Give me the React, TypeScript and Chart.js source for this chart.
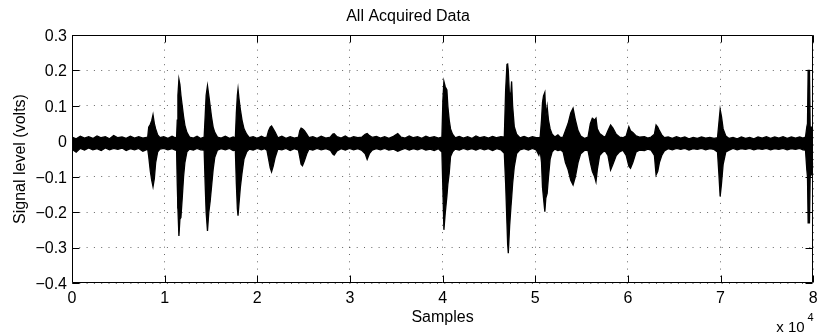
import React, { useEffect, useRef } from "react";
import { Chart, registerables } from "chart.js";

Chart.register(...registerables);

const sampleIdx = [
  0, 450, 900, 1350, 1800, 2250, 2700, 3150, 3600, 4050, 4500, 4950, 5400, 5850, 6300, 6750, 7200, 7650,
  8172, 8280, 8458, 8602, 8745, 8890, 9032, 9247, 9498,
  9900, 10350, 10800, 11150,
  11290, 11361, 11433, 11540, 11648, 11756, 11899, 12042, 12186, 12401, 12687,
  13100, 13500, 13900,
  14265, 14373, 14480, 14624, 14767, 14910, 15054, 15233, 15412, 15699,
  16100, 16550, 17000, 17400,
  17634, 17741, 17849, 17921, 18028, 18171, 18350, 18566, 18852, 19139,
  19550, 20000, 20450, 20800,
  21039, 21218, 21397, 21540, 21720, 21935, 22221,
  22650, 23100, 23550, 24000,
  24443, 24586, 24730, 24873, 25088, 25339, 25590,
  26000, 26450, 26900, 27400,
  27900, 28150, 28300, 28600,
  29050, 29500, 29950, 30400, 30850, 31300,
  31650, 31860, 32100, 32400,
  32850, 33300, 33750, 34200, 34700, 35161, 35500, 35950, 36400, 36850, 37300, 37750, 38200, 38650, 39100, 39550,
  39928, 40035, 40143, 40286, 40465, 40573, 40716, 40860, 41074, 41361,
  41800, 42250, 42700, 43150, 43600, 44050, 44500, 44950, 45400, 45850, 46300,
  46665, 46808, 46951, 47023, 47094, 47237, 47381, 47452, 47560, 47739, 47990, 48348,
  48800, 49250, 49700, 50100,
  50393, 50536, 50680, 50787, 50895, 51038, 51146, 51289, 51432, 51611, 51826, 52113, 52450, 52750,
  53011, 53261, 53548, 53835, 54086, 54337, 54623, 54910, 55340, 55699,
  55949, 56165, 56415, 56559, 56702, 56953, 57311, 57562,
  57849, 58136, 58387, 58745, 59103, 59462,
  59820, 60107, 60286, 60537, 60895, 61254, 61791, 62150, 62508,
  62867, 63046, 63225, 63404, 63655, 63942,
  64350, 64800, 65250, 65700, 66150, 66600, 67050, 67500, 67950, 68400, 68850, 69300,
  69676, 69820, 69963, 70106, 70285, 70572, 70931,
  71350, 71800, 72250, 72700, 73150, 73600, 74050, 74500, 74950, 75400, 75850, 76300, 76750, 77200, 77650, 78100, 78550, 78900,
  79174, 79317, 79389, 79460, 79604, 79676, 79890, 80000,
];

const upperEnv = [
  0.012, 0.007, 0.014, 0.009, 0.013, 0.008, 0.015, 0.01, 0.013, 0.007, 0.016, 0.01, 0.012, 0.008, 0.014, 0.009, 0.013, 0.009,
  0.012, 0.04, 0.048, 0.058, 0.075, 0.05, 0.035, 0.018, 0.01,
  0.013, 0.008, 0.014, 0.01,
  0.012, 0.06, 0.13, 0.175, 0.16, 0.13, 0.1, 0.07, 0.045, 0.025, 0.012,
  0.009, 0.014, 0.008,
  0.012, 0.07, 0.13, 0.157, 0.13, 0.1, 0.07, 0.04, 0.025, 0.012,
  0.009, 0.014, 0.008, 0.012,
  0.01, 0.08, 0.13, 0.147, 0.12, 0.09, 0.06, 0.035, 0.02, 0.01,
  0.013, 0.008, 0.014, 0.01,
  0.012, 0.03, 0.04, 0.043, 0.035, 0.025, 0.01,
  0.014, 0.008, 0.013, 0.009,
  0.012, 0.03, 0.037, 0.035, 0.03, 0.02, 0.01,
  0.013, 0.008, 0.014, 0.009,
  0.012, 0.02, 0.021, 0.013,
  0.009, 0.015, 0.008, 0.013, 0.01, 0.012,
  0.02, 0.022, 0.016, 0.011,
  0.014, 0.009, 0.013, 0.008, 0.014, 0.022, 0.012, 0.009, 0.015, 0.01, 0.013, 0.008, 0.014, 0.01, 0.013, 0.009,
  0.012, 0.117, 0.169, 0.154, 0.145, 0.098, 0.06, 0.035, 0.02, 0.01,
  0.014, 0.009, 0.013, 0.008, 0.015, 0.01, 0.013, 0.009, 0.014, 0.01, 0.013,
  0.012, 0.145, 0.217, 0.218, 0.2, 0.12, 0.14, 0.169, 0.1, 0.041, 0.02, 0.01,
  0.014, 0.009, 0.013, 0.01,
  0.01, 0.012, 0.06, 0.11, 0.128, 0.138, 0.07, 0.098, 0.06, 0.035, 0.02, 0.012, 0.018, 0.01,
  0.012, 0.03, 0.05, 0.08, 0.093, 0.06, 0.03, 0.015, 0.008, 0.012,
  0.05, 0.065, 0.06, 0.065, 0.035, 0.022, 0.015, 0.012,
  0.03, 0.046, 0.037, 0.02, 0.012, 0.01,
  0.015, 0.041, 0.03, 0.025, 0.015, 0.012, 0.013, 0.009, 0.012,
  0.02, 0.046, 0.04, 0.03, 0.018, 0.01,
  0.012, 0.008, 0.013, 0.009, 0.012, 0.007, 0.011, 0.008, 0.012, 0.009, 0.011, 0.008,
  0.01, 0.05, 0.09, 0.07, 0.035, 0.015, 0.008,
  0.011, 0.007, 0.012, 0.008, 0.011, 0.007, 0.012, 0.009, 0.013, 0.008, 0.012, 0.009, 0.013, 0.008, 0.012, 0.009, 0.012, 0.009,
  0.012, 0.041, 0.05, 0.2, 0.2, 0.04, 0.04, 0.03,
];

const lowerEnv = [
  -0.022, -0.031, -0.02, -0.025, -0.019, -0.024, -0.021, -0.026, -0.019, -0.024, -0.02, -0.023, -0.019, -0.026, -0.021, -0.024, -0.02, -0.028,
  -0.022, -0.043, -0.085, -0.11, -0.128, -0.105, -0.06, -0.03, -0.022,
  -0.02, -0.024, -0.021, -0.025,
  -0.025, -0.12, -0.19, -0.267, -0.22, -0.215, -0.16, -0.1, -0.06, -0.03, -0.022,
  -0.025, -0.02, -0.024,
  -0.025, -0.12, -0.2, -0.253, -0.2, -0.17, -0.13, -0.08, -0.045, -0.025,
  -0.021, -0.024, -0.02, -0.026,
  -0.025, -0.12, -0.19, -0.21, -0.175, -0.13, -0.09, -0.05, -0.03, -0.022,
  -0.025, -0.02, -0.024, -0.021,
  -0.025, -0.05, -0.075, -0.086, -0.07, -0.045, -0.022,
  -0.024, -0.02, -0.026, -0.021,
  -0.025, -0.045, -0.065, -0.069, -0.055, -0.035, -0.022,
  -0.025, -0.02, -0.024, -0.021,
  -0.026, -0.036, -0.039, -0.027,
  -0.021, -0.025, -0.02, -0.024, -0.021, -0.026,
  -0.035, -0.051, -0.035, -0.025,
  -0.021, -0.024, -0.02, -0.025, -0.022, -0.028, -0.024, -0.02, -0.025, -0.021, -0.024, -0.02, -0.025, -0.022, -0.026, -0.021,
  -0.03, -0.137, -0.25, -0.203, -0.156, -0.12, -0.09, -0.043, -0.03, -0.022,
  -0.025, -0.02, -0.024, -0.021, -0.025, -0.02, -0.024, -0.021, -0.026, -0.021, -0.024,
  -0.034, -0.119, -0.232, -0.29, -0.316, -0.24, -0.185, -0.16, -0.12, -0.072, -0.035, -0.024,
  -0.021, -0.025, -0.02, -0.024,
  -0.039, -0.025, -0.06, -0.13, -0.16, -0.199, -0.16, -0.147, -0.1, -0.05, -0.03, -0.022, -0.026, -0.024,
  -0.03, -0.06, -0.08, -0.11, -0.123, -0.1, -0.06, -0.035, -0.025, -0.026,
  -0.06, -0.085, -0.1, -0.114, -0.08, -0.04, -0.03, -0.028,
  -0.04, -0.081, -0.065, -0.04, -0.03, -0.025,
  -0.04, -0.07, -0.076, -0.06, -0.03, -0.025, -0.026, -0.022, -0.025,
  -0.04, -0.095, -0.085, -0.06, -0.04, -0.027,
  -0.021, -0.024, -0.02, -0.023, -0.02, -0.025, -0.021, -0.023, -0.02, -0.024, -0.021, -0.023,
  -0.03, -0.09, -0.156, -0.12, -0.065, -0.03, -0.025,
  -0.02, -0.024, -0.021, -0.023, -0.02, -0.024, -0.021, -0.023, -0.02, -0.024, -0.021, -0.023, -0.02, -0.024, -0.021, -0.023, -0.02, -0.024,
  -0.025, -0.08, -0.1, -0.23, -0.23, -0.1, -0.09, -0.06,
];

const xTickValues = [0, 10000, 20000, 30000, 40000, 50000, 60000, 70000, 80000];
const xTickLabels = ["0", "1", "2", "3", "4", "5", "6", "7", "8"];
const yTickValues = [-0.4, -0.3, -0.2, -0.1, 0, 0.1, 0.2, 0.3];
const yTickLabels = ["\u22120.4", "\u22120.3", "\u22120.2", "\u22120.1", "0", "0.1", "0.2", "0.3"];

const chartTitle = "All Acquired Data";
const xTitle = "Samples";
const yTitle = "Signal level (volts)";
const xExponentBase = "x 10";
const xExponent = "4";

const FONT = "'Liberation Sans', Arial, Helvetica, sans-serif";

const matlabAxes = {
  id: "matlabAxes",
  afterDraw(chart: any) {
    const { ctx, chartArea, scales } = chart;
    const xs = scales.x;
    const ys = scales.y;
    const L = Math.round(chartArea.left) + 0.5;
    const R = Math.round(chartArea.right) - 0.5;
    const T = Math.round(chartArea.top) + 0.5;
    const B = Math.round(chartArea.bottom) - 0.5;
    const tick = 7;
    ctx.save();
    ctx.strokeStyle = "#000";
    ctx.lineWidth = 1;
    ctx.beginPath();
    ctx.rect(L, T, R - L, B - T);
    ctx.stroke();
    ctx.beginPath();
    for (const t of xs.ticks) {
      const px = Math.round(xs.getPixelForValue(t.value)) + 0.5;
      ctx.moveTo(px, B);
      ctx.lineTo(px, B - tick);
      ctx.moveTo(px, T);
      ctx.lineTo(px, T + tick);
    }
    for (const t of ys.ticks) {
      const py = Math.round(ys.getPixelForValue(t.value)) + 0.5;
      ctx.moveTo(L, py);
      ctx.lineTo(L + tick, py);
      ctx.moveTo(R, py);
      ctx.lineTo(R - tick, py);
    }
    ctx.stroke();
    ctx.fillStyle = "#000";
    ctx.textAlign = "right";
    ctx.textBaseline = "alphabetic";
    ctx.font = `15px ${FONT}`;
    ctx.fillText(xExponentBase, chartArea.right - 8.5, 331.5);
    ctx.font = `11px ${FONT}`;
    ctx.fillText(xExponent, chartArea.right + 0.5, 320.5);
    ctx.restore();
  },
};

export default function App() {
  const canvasRef = useRef<HTMLCanvasElement | null>(null);

  useEffect(() => {
    const canvas = canvasRef.current;
    if (!canvas) return;
    const upperData = sampleIdx.map((x, i) => ({ x, y: upperEnv[i] }));
    const lowerData = sampleIdx.map((x, i) => ({ x, y: lowerEnv[i] }));
    const tickFont = { family: FONT, size: 16, weight: "normal" as const };

    const chart = new Chart(canvas, {
      type: "line",
      data: {
        datasets: [
          {
            label: "signal max",
            data: upperData,
            borderColor: "#000",
            backgroundColor: "#000",
            borderWidth: 1.3,
            pointRadius: 0,
            tension: 0,
            fill: "+1",
          },
          {
            label: "signal min",
            data: lowerData,
            borderColor: "#000",
            backgroundColor: "#000",
            borderWidth: 1.3,
            pointRadius: 0,
            tension: 0,
            fill: false,
          },
        ],
      },
      options: {
        animation: false,
        responsive: false,
        devicePixelRatio: 1,
        events: [],
        layout: { padding: { left: 0, right: 8, top: 0, bottom: 0 } },
        plugins: {
          legend: { display: false },
          tooltip: { enabled: false },
          title: {
            display: true,
            text: chartTitle,
            color: "#000",
            font: tickFont,
            padding: { top: 7.4, bottom: 8.4 },
          },
        },
        scales: {
          x: {
            type: "linear",
            min: 0,
            max: 80000,
            afterBuildTicks: (s: any) => {
              s.ticks = xTickValues.map((v) => ({ value: v }));
            },
            afterFit: (s: any) => {
              s.height = 53;
            },
            ticks: {
              callback: (_v: any, i: number) => xTickLabels[i],
              color: "#000",
              font: tickFont,
              padding: 6.4,
              maxRotation: 0,
              autoSkip: false,
            },
            grid: { color: "rgba(0,0,0,0.6)", lineWidth: 1, drawTicks: false },
            border: { display: false, dash: [1, 6.3] },
            title: {
              display: true,
              text: xTitle,
              color: "#000",
              font: tickFont,
              padding: { top: 0, bottom: 8.7 },
            },
          },
          y: {
            type: "linear",
            min: -0.4,
            max: 0.3,
            afterBuildTicks: (s: any) => {
              s.ticks = yTickValues.map((v) => ({ value: v }));
            },
            afterFit: (s: any) => {
              s.width = 72;
            },
            ticks: {
              callback: (_v: any, i: number) => yTickLabels[i],
              color: "#000",
              font: tickFont,
              padding: 5,
              labelOffset: 1.5,
              autoSkip: false,
            },
            grid: { color: "rgba(0,0,0,0.6)", lineWidth: 1, drawTicks: false },
            border: { display: false, dash: [1, 6.3] },
            title: {
              display: true,
              text: yTitle,
              color: "#000",
              font: tickFont,
              padding: { top: 11.4, bottom: 0 },
            },
          },
        },
      },
      plugins: [matlabAxes],
    });

    return () => {
      chart.destroy();
    };
  }, []);

  return (
    <div style={{ position: "fixed", left: 0, top: 0, width: 824, height: 336, background: "#fff" }}>
      <canvas ref={canvasRef} width={824} height={336} style={{ display: "block", width: 824, height: 336 }} />
    </div>
  );
}
